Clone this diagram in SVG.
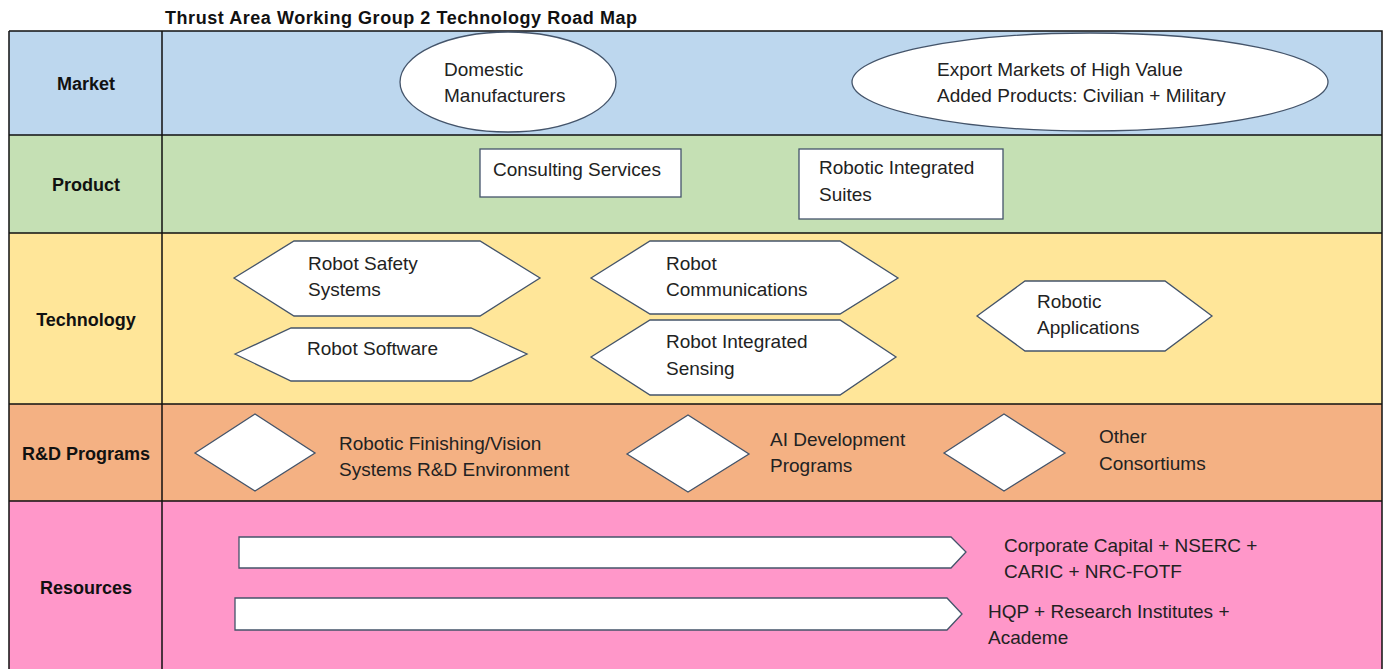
<svg xmlns="http://www.w3.org/2000/svg" width="1389" height="669" viewBox="0 0 1389 669">
<style>
.t{font-family:"Liberation Sans",Arial,sans-serif;font-size:19px;fill:#222}
.lb{font-family:"Liberation Sans",Arial,sans-serif;font-size:18px;font-weight:bold;fill:#111;text-anchor:middle}
.ttl{font-family:"Liberation Sans",Arial,sans-serif;font-size:18px;font-weight:bold;fill:#111}
.n{fill:#fff;stroke:#44546A;stroke-width:1.3}
.grid{stroke:#111;stroke-width:1.5;fill:none}
</style>
<rect width="1389" height="669" fill="#fff"/>
<text class="ttl" x="165" y="24" textLength="472">Thrust Area Working Group 2 Technology Road Map</text>
<g id="rows">
<rect x="9" y="31" width="1373" height="104" fill="#BDD7EE"/>
<rect x="9" y="135" width="1373" height="98" fill="#C5E0B4"/>
<rect x="9" y="233" width="1373" height="171" fill="#FFE699"/>
<rect x="9" y="404" width="1373" height="97" fill="#F4B183"/>
<rect x="9" y="501" width="1373" height="168" fill="#FF97C9"/>
<path class="grid" d="M9 31H1382V669M9 31V669M162 31V669M9 135H1382M9 233H1382M9 404H1382M9 501H1382"/>
<text class="lb" x="86" y="90">Market</text>
<text class="lb" x="86" y="191">Product</text>
<text class="lb" x="86" y="326">Technology</text>
<text class="lb" x="86" y="460">R&amp;D Programs</text>
<text class="lb" x="86" y="594">Resources</text>
</g>
<g id="connectors"></g>
<g id="domestic"><ellipse class="n" cx="508" cy="82" rx="108" ry="50"/><text class="t" x="444" y="76">Domestic</text><text class="t" x="444" y="102">Manufacturers</text></g>
<g id="export"><ellipse class="n" cx="1090" cy="82" rx="238" ry="49"/><text class="t" x="937" y="76">Export Markets of High Value</text><text class="t" x="937" y="102">Added Products: Civilian + Military</text></g>
<g id="consulting"><rect class="n" x="480" y="149" width="201" height="48"/><text class="t" x="493" y="176">Consulting Services</text></g>
<g id="suites"><rect class="n" x="799" y="149" width="204" height="70"/><text class="t" x="819" y="174">Robotic Integrated</text><text class="t" x="819" y="201">Suites</text></g>
<g id="safety"><polygon class="n" points="234,278 294,241 480,241 540,278 480,316 294,316"/><text class="t" x="308" y="270">Robot Safety</text><text class="t" x="308" y="296">Systems</text></g>
<g id="software"><polygon class="n" points="235,354 291,328 471,328 527,354 471,381 291,381"/><text class="t" x="307" y="355">Robot Software</text></g>
<g id="comms"><polygon class="n" points="591,278 650,241 840,241 898,278 840,314 650,314"/><text class="t" x="666" y="270">Robot</text><text class="t" x="666" y="296">Communications</text></g>
<g id="sensing"><polygon class="n" points="591,357 650,320 840,320 896,357 840,395 650,395"/><text class="t" x="666" y="348">Robot Integrated</text><text class="t" x="666" y="375">Sensing</text></g>
<g id="apps"><polygon class="n" points="977,316 1025,281 1165,281 1212,316 1165,351 1025,351"/><text class="t" x="1037" y="308">Robotic</text><text class="t" x="1037" y="334">Applications</text></g>
<g id="finishing"><polygon class="n" points="195,453 255,414 315,453 255,491"/><text class="t" x="339" y="450">Robotic Finishing/Vision</text><text class="t" x="339" y="476">Systems R&amp;D Environment</text></g>
<g id="ai"><polygon class="n" points="627,454 688,415 749,454 688,492"/><text class="t" x="770" y="446">AI Development</text><text class="t" x="770" y="472">Programs</text></g>
<g id="other"><polygon class="n" points="944,453 1004,414 1065,453 1004,491"/><text class="t" x="1099" y="443">Other</text><text class="t" x="1099" y="470">Consortiums</text></g>
<g id="capital"><polygon class="n" points="239,537 951,537 966,552 951,568 239,568"/><text class="t" x="1004" y="552">Corporate Capital + NSERC +</text><text class="t" x="1004" y="578">CARIC + NRC-FOTF</text></g>
<g id="hqp"><polygon class="n" points="235,598 947,598 962,614 947,630 235,630"/><text class="t" x="988" y="618">HQP + Research Institutes +</text><text class="t" x="988" y="644">Academe</text></g>
</svg>
